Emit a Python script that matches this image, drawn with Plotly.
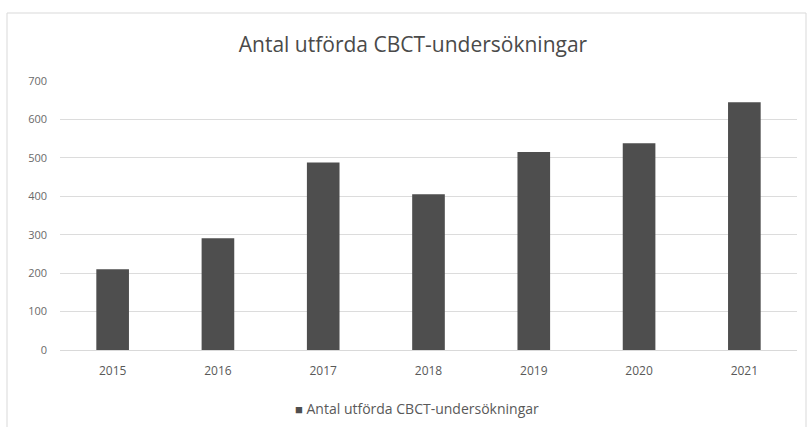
import plotly.graph_objects as go

# Number of CBCT examinations performed per year
years = ["2015", "2016", "2017", "2018", "2019", "2020", "2021"]
examinations = [210, 291, 488, 405, 515, 538, 645]
y_ticks = [0, 100, 200, 300, 400, 500, 600, 700]

series_name = "Antal utförda CBCT-undersökningar"
font_family = "Open Sans, Liberation Sans, sans-serif"
bar_color = "#4e4e4e"

fig = go.Figure(
    go.Bar(
        x=years,
        y=examinations,
        name=series_name,
        marker=dict(color=bar_color, line=dict(width=0)),
        showlegend=False,
    )
)

# Legend key drawn as a coloured square followed by the series name
legend_text = (
    f"<span style='color:{bar_color}; font-size:13px'>■</span> {series_name}"
)

fig.update_layout(
    width=807,
    height=427,
    margin=dict(l=60, r=10, t=81, b=77, autoexpand=False),
    paper_bgcolor="white",
    plot_bgcolor="white",
    bargap=0.69,
    font=dict(family=font_family, color="#595959", size=12),
    title=dict(
        text=series_name,
        x=413 / 807,
        xanchor="center",
        y=1 - 45 / 427,
        yanchor="middle",
        font=dict(family=font_family, size=21, color="#4a4a4a"),
    ),
    xaxis=dict(
        showgrid=False,
        showline=True,
        linecolor="#d9d9d9",
        linewidth=1,
        ticks="",
        tickfont=dict(size=12, color="#595959"),
        ticklabelstandoff=10,
    ),
    yaxis=dict(
        range=[0, 700],
        tickvals=y_ticks,
        showgrid=True,
        gridcolor="#dcdcdc",
        gridwidth=1,
        zeroline=False,
        showline=False,
        ticks="",
        tickfont=dict(size=11, color="#6a6a6a"),
        ticklabelstandoff=12,
    ),
    annotations=[
        dict(
            text=legend_text,
            xref="paper",
            yref="paper",
            x=(417 - 60) / 737,
            xanchor="center",
            y=(350 - 408) / 269,
            yanchor="middle",
            showarrow=False,
            font=dict(family=font_family, size=14, color="#595959"),
        )
    ],
    shapes=[
        dict(
            type="rect",
            xref="paper",
            yref="paper",
            x0=(7 - 60) / 737,
            x1=(806 - 60) / 737,
            y0=-0.4,
            y1=(350 - 13) / 269,
            line=dict(color="#d9d9d9", width=1),
            fillcolor="rgba(0,0,0,0)",
            layer="below",
        )
    ],
)

fig.write_html("out.html")
